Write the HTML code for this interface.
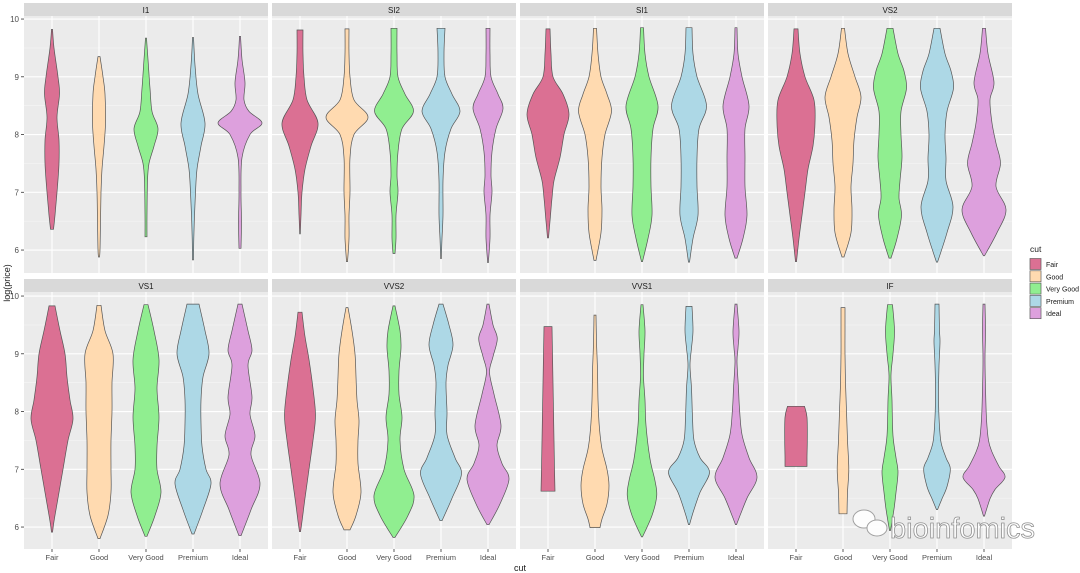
<!DOCTYPE html>
<html><head><meta charset="utf-8">
<style>
html,body{margin:0;padding:0;background:#fff;}
svg{display:block;font-family:"Liberation Sans",Arial,sans-serif;}
</style></head>
<body>
<svg id="chart" width="1080" height="573" viewBox="0 0 1080 573"></svg>
<script>
const clarities = ["I1","SI2","SI1","VS2","VS1","VVS2","VVS1","IF"];
const cuts = ["Fair","Good","Very Good","Premium","Ideal"];
const cutColors = ["#DB7093","#FFDAB0","#90EE90","#ADD8E6","#DDA0DD"];
const yTicks = [6,7,8,9,10];
// density profiles: [log(price), half-width density] per clarity, per cut
const profI1 = [
 [[9.82,0.5],[9.5,2],[9.0,6],[8.7,7.5],[8.3,5],[7.9,7],[7.5,7],[7.0,5],[6.6,3],[6.36,1.5]],
 [[9.35,1],[9.0,4],[8.7,6],[8.2,6.5],[7.8,5],[7.4,3],[7.0,2],[6.5,1.5],[6.0,1],[5.88,0.5]],
 [[9.67,0.5],[9.3,2],[8.8,4],[8.4,6],[8.1,12],[7.8,8],[7.5,3],[7.2,1.5],[6.6,1],[6.23,1]],
 [[9.68,0.5],[9.2,2],[8.7,5],[8.2,12],[7.8,8],[7.4,4],[7.0,2.5],[6.6,1.5],[6.2,0.8],[5.83,0.5]],
 [[9.7,0.5],[9.3,2],[8.9,5],[8.6,4],[8.4,9],[8.2,22],[8.0,10],[7.6,2],[7.0,1],[6.5,1.5],[6.03,1]]
];
const profSI2 = [
 [[9.81,3],[9.4,3],[9.0,4],[8.6,7],[8.2,18],[7.8,11],[7.4,5],[7.0,2],[6.6,1],[6.28,0.3]],
 [[9.83,2],[9.4,2],[9.0,3],[8.6,7],[8.3,21],[8.0,7],[7.6,3],[7.0,3],[6.6,2],[6.2,2],[5.8,0.5]],
 [[9.84,3],[9.4,3],[9.0,4],[8.7,11],[8.4,19.5],[8.1,8],[7.7,4],[7.3,3],[7.0,4],[6.6,2],[6.2,2],[5.94,1]],
 [[9.84,4],[9.4,3],[9.0,4],[8.7,11],[8.4,19],[8.1,10],[7.7,4],[7.2,2],[6.6,2],[6.2,1],[5.85,0.3]],
 [[9.84,2],[9.4,2],[9.0,3],[8.7,10],[8.45,15],[8.1,8],[7.7,4],[7.3,3],[7.0,4],[6.6,2],[6.2,2],[5.78,0.3]]
];
const profSI1 = [
 [[9.83,2],[9.4,3],[9.0,5],[8.7,15],[8.35,21],[8.0,16],[7.6,12],[7.2,6],[6.9,4],[6.5,2],[6.21,0.5]],
 [[9.84,1.5],[9.4,3],[9.0,6],[8.7,12],[8.4,16.5],[8.0,10],[7.6,7],[7.1,6],[6.7,7],[6.3,6],[5.82,1]],
 [[9.85,1.5],[9.4,3],[9.0,7],[8.5,16],[8.1,11],[7.6,9],[7.1,9],[6.6,10],[6.2,6],[5.8,0.5]],
 [[9.85,3],[9.4,4],[9.0,8],[8.5,17.5],[8.1,10],[7.6,8],[7.1,8],[6.6,9],[6.2,4],[5.79,0.5]],
 [[9.85,1],[9.4,2],[9.0,6],[8.5,13],[8.1,9],[7.6,9],[7.1,9],[6.6,11],[6.2,7],[5.86,1]]
];
const profVS2 = [
 [[9.83,2],[9.4,4],[9.0,9],[8.6,18],[8.2,19],[7.8,17],[7.4,12],[7.0,9],[6.6,6],[6.2,3],[5.8,0.5]],
 [[9.84,1.5],[9.4,5],[9.0,12],[8.65,18],[8.3,14],[7.9,11],[7.5,10],[7.1,8],[6.7,9],[6.3,8],[5.88,1]],
 [[9.84,3],[9.4,8],[9.1,14],[8.8,16.5],[8.4,11],[8.0,11],[7.6,12],[7.2,10],[6.9,9],[6.6,11.5],[6.2,7],[5.86,1]],
 [[9.84,3],[9.4,8],[9.1,14],[8.8,16.5],[8.4,10],[8.0,8],[7.6,9],[7.2,9],[6.75,16],[6.3,10],[5.79,0.5]],
 [[9.84,1.5],[9.4,4],[8.9,10],[8.6,6],[8.2,8],[7.85,12],[7.5,16.5],[7.1,12],[6.7,22],[6.3,13],[5.9,0.5]]
];
const profVS1 = [
 [[9.83,3],[9.4,8],[9.0,13],[8.6,15],[8.2,18],[7.87,21],[7.5,16],[7.0,11],[6.5,6],[6.1,2],[5.91,0.5]],
 [[9.84,2],[9.4,6],[9.0,14],[8.5,13],[8.0,13],[7.5,12],[7.0,12],[6.6,12],[6.2,9],[5.8,1]],
 [[9.85,2],[9.4,8],[8.9,13],[8.4,11],[7.9,13],[7.4,11],[7.0,11],[6.6,15],[6.2,9],[5.84,1]],
 [[9.86,6],[9.4,12],[9.0,16],[8.6,10],[8.2,8],[7.8,8],[7.4,9],[7.0,13],[6.75,18],[6.3,10],[5.88,1]],
 [[9.86,2],[9.4,8],[9.06,12],[8.8,8],[8.25,12],[7.95,10],[7.58,15],[7.25,11],[6.75,20],[6.3,11],[5.85,1]]
];
const profVVS2 = [
 [[9.72,2],[9.3,5],[8.9,9],[8.4,13],[7.93,15.5],[7.5,13],[7.0,9],[6.5,5],[6.1,2],[5.92,0.5]],
 [[9.8,1],[9.4,5],[9.0,8],[8.6,9],[8.2,10],[7.85,12],[7.5,11],[7.1,11],[6.6,14],[6.2,9],[5.95,3]],
 [[9.83,1],[9.4,6],[9.1,7],[8.7,5],[8.3,5],[7.9,8],[7.5,6],[7.0,10],[6.55,20],[6.2,14],[5.82,1]],
 [[9.86,2],[9.5,8],[9.15,12],[8.8,7],[8.5,5],[8.0,6],[7.6,6],[7.2,14],[6.92,20.5],[6.5,11],[6.11,1]],
 [[9.86,1],[9.5,5],[9.26,9.3],[8.95,5],[8.68,1.5],[8.3,6],[7.76,13],[7.41,9],[7.1,14],[6.83,21],[6.4,12],[6.04,1]]
];
const profVVS1 = [
 [[9.47,4],[9.0,4.5],[8.5,5],[8.0,5.5],[7.5,6],[7.0,6.5],[6.62,7]],
 [[9.67,1],[9.2,1.5],[8.7,2.5],[8.2,3],[7.7,4.5],[7.35,7],[7.0,12],[6.72,14],[6.4,12],[6.14,7],[5.99,5]],
 [[9.85,1],[9.4,3],[9.0,2],[8.6,1.5],[8.2,3],[7.76,4],[7.18,8],[6.8,13],[6.54,14.7],[6.2,10],[5.83,0.5]],
 [[9.82,3],[9.4,4],[9.1,2.5],[8.8,1],[8.4,2.5],[7.9,3.5],[7.5,5],[7.2,11],[6.95,20.5],[6.6,11],[6.25,4],[6.04,0.5]],
 [[9.86,1],[9.4,3],[9.1,2],[8.86,1],[8.4,2.5],[8.05,3.5],[7.6,6],[7.2,13],[6.86,21],[6.5,11],[6.2,4],[6.04,0.5]]
];
const profIF = [
 [[8.09,8.5],[7.9,11],[7.5,11.3],[7.2,11],[7.05,11]],
 [[9.8,2],[9.4,2],[9.0,2],[8.5,2.5],[8.0,3.5],[7.5,4.5],[7.0,5.8],[6.6,4.5],[6.23,4]],
 [[9.85,2.5],[9.4,4.5],[9.0,3],[8.63,1],[8.2,2],[7.58,3],[7.2,6],[6.95,8],[6.6,6],[6.31,4],[5.94,0.5]],
 [[9.86,2],[9.4,2.5],[9.2,3],[8.8,2],[8.34,1.5],[7.9,2],[7.47,4],[7.2,9],[7.01,13.3],[6.7,10],[6.49,5],[6.3,0.5]],
 [[9.86,1],[9.4,1.5],[8.9,1],[8.4,1.5],[7.87,2.5],[7.5,4.5],[7.3,8],[7.05,15],[6.86,21],[6.65,11],[6.49,6],[6.19,0.5]]
];
const profiles = [profI1,profSI2,profSI1,profVS2,profVS1,profVVS2,profVVS1,profIF];

const NS="http://www.w3.org/2000/svg";
const svg=document.getElementById('chart');
function mk(tag,attrs,parent){const e=document.createElementNS(NS,tag);for(const k in attrs)e.setAttribute(k,attrs[k]);(parent||svg).appendChild(e);return e;}
const YMAX=10.07, PXU=57.75, PW=244, PH=257;
function panelX(col){return 24+248*col;}
function panelTop(row){return row===0?16:292;}
function yScale(row,v){return (row===0?15:292)+(YMAX-v)*PXU;}
function xScale(col,i){return panelX(col)+28+47*i;}
function smoothPath(pts){
  let d="";
  for(let i=0;i<pts.length-1;i++){
    const p0=pts[Math.max(0,i-1)],p1=pts[i],p2=pts[i+1],p3=pts[Math.min(pts.length-1,i+2)];
    const c1=[p1[0]+(p2[0]-p0[0])/6,p1[1]+(p2[1]-p0[1])/6];
    const c2=[p2[0]-(p3[0]-p1[0])/6,p2[1]-(p3[1]-p1[1])/6];
    d+=` C${c1[0].toFixed(1)},${c1[1].toFixed(1)} ${c2[0].toFixed(1)},${c2[1].toFixed(1)} ${p2[0].toFixed(1)},${p2[1].toFixed(1)}`;
  }
  return d;
}
clarities.forEach((cl,p)=>{
  const row=Math.floor(p/4), col=p%4, x0=panelX(col), top=panelTop(row);
  const g=mk('g',{});
  
  
  const bg=mk('rect',{x:x0,y:top,width:PW,height:PH,fill:'#EBEBEB'},g);
  
  
  const st=mk('rect',{x:x0,y:row===0?3:279,width:PW,height:13,fill:'#D9D9D9'},g);
  
  
  const stt=mk('text',{x:x0+PW/2,y:row===0?13:289,'font-size':8,fill:'#1A1A1A','text-anchor':'middle'},g);
  stt.textContent=cl;
  
  
  for(let v=6.5;v<10;v+=1){const yy=yScale(row,v);mk('line',{x1:x0,x2:x0+PW,y1:yy,y2:yy,stroke:'#F5F5F5','stroke-width':0.6},g);}
  yTicks.forEach(v=>{const yy=yScale(row,v);if(yy>top&&yy<top+PH)mk('line',{x1:x0,x2:x0+PW,y1:yy,y2:yy,stroke:'#FFFFFF','stroke-width':1.1},g);});
  cuts.forEach((c,i)=>{const xx=xScale(col,i);mk('line',{x1:xx,x2:xx,y1:top,y2:top+PH,stroke:'#FFFFFF','stroke-width':1.1},g);});
  cuts.forEach((c,i)=>{
    const prof=profiles[p][i], cx=xScale(col,i);
    const right=prof.map(q=>[cx+q[1],yScale(row,q[0])]);
    const left=prof.slice().reverse().map(q=>[cx-q[1],yScale(row,q[0])]);
    let d=`M${right[0][0].toFixed(1)},${right[0][1].toFixed(1)}`+smoothPath(right);
    d+=` L${left[0][0].toFixed(1)},${left[0][1].toFixed(1)}`+smoothPath(left)+' Z';
    const v=mk('path',{d:d,fill:cutColors[i],stroke:'#555555','stroke-width':0.7},g);
    
    
  });
  if(col===0){
    yTicks.forEach(v=>{
      const yy=yScale(row,v);
      mk('line',{x1:x0-3,x2:x0,y1:yy,y2:yy,stroke:'#333','stroke-width':0.8},g);
      const t=mk('text',{x:x0-5,y:yy+3,'font-size':8,fill:'#4D4D4D','text-anchor':'end'},g);
      t.textContent=v;
      
      
    });
  }
  if(row===1){
    cuts.forEach((c,i)=>{
      const xx=xScale(col,i);
      mk('line',{x1:xx,x2:xx,y1:top+PH,y2:top+PH+3,stroke:'#333','stroke-width':0.8},g);
      const t=mk('text',{x:xx,y:560,'font-size':7.5,fill:'#4D4D4D','text-anchor':'middle'},g);
      t.textContent=c;
      
      
    });
  }
});
// axis titles
const yt=mk('text',{x:10,y:283,'font-size':9,fill:'#1A1A1A','text-anchor':'middle',transform:'rotate(-90 10 283)'});
yt.textContent='log(price)';


const xt=mk('text',{x:520,y:571,'font-size':9,fill:'#1A1A1A','text-anchor':'middle'});
xt.textContent='cut';


// legend
const lg=mk('g',{});


const lt=mk('text',{x:1030,y:252,'font-size':8.5,fill:'#1A1A1A'},lg);
lt.textContent='cut';


cuts.forEach((c,i)=>{
  const ky=258+i*12.3;
  const r=mk('rect',{x:1029,y:ky,width:13,height:12,fill:'#F2F2F2'},lg);
  const k=mk('rect',{x:1030,y:ky+0.5,width:11,height:11,fill:cutColors[i],stroke:'#555','stroke-width':0.6},lg);
  
  
  const t=mk('text',{x:1046,y:ky+9,'font-size':7,fill:'#1A1A1A'},lg);
  t.textContent=c;
  
  
});
// watermark
const wm=mk('g',{opacity:0.9});


mk('ellipse',{cx:864,cy:519,rx:11,ry:9,fill:'#fff',stroke:'#999','stroke-width':1},wm);
mk('ellipse',{cx:877,cy:528,rx:10,ry:8,fill:'#fff',stroke:'#999','stroke-width':1},wm);
const wt=mk('text',{x:890,y:538,'font-size':29,fill:'#fff',stroke:'#888','stroke-width':0.8},wm);
wt.textContent='bioinfomics';
</script>
</body></html>
